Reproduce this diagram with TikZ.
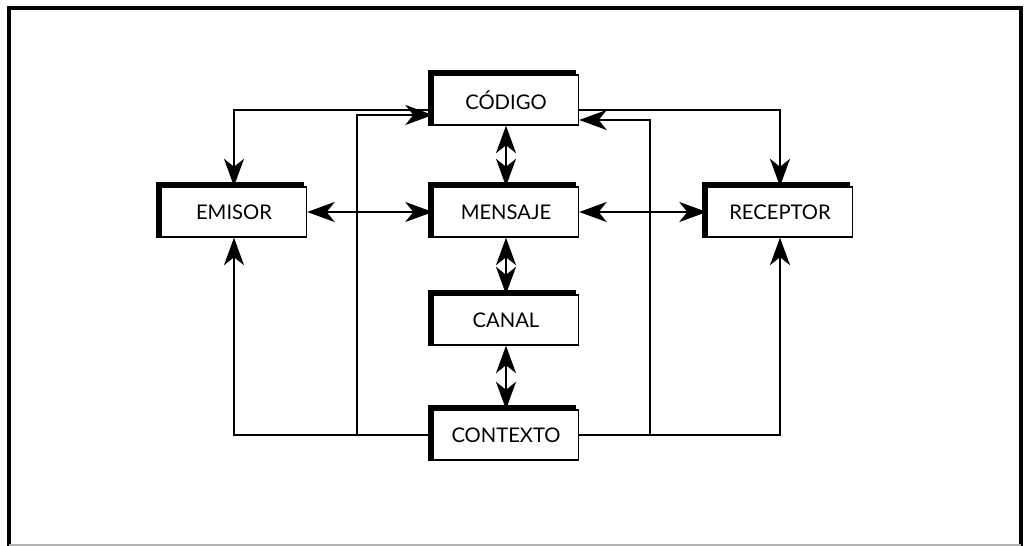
\documentclass[tikz,border=0pt]{standalone}
\usepackage{fontspec}
\setmainfont{Lato}
\usetikzlibrary{arrows.meta}
\usetikzlibrary{positioning}
\tikzset{x=0.02cm, y=-0.02cm,
box/.style={ % boxes of the scheme
draw,
line width=0.8pt,
fill=white,
minimum width=2.9cm,
minimum height=1cm,
font=\fontsize{11.5}{13}\selectfont},
link/.style={ % lines between boxes
line width=1.1pt,
-{Stealth[length=5.5mm,width=4mm,inset=1.6mm]}},
both/.style={
link,
{Stealth[length=5.5mm,width=4mm,inset=1.6mm]}-{Stealth[length=5.5mm,width=4mm,inset=1.6mm]}}}

\begin{document}
\begin{tikzpicture}
	\useasboundingbox (0,0) rectangle (1025,546);
	% frame
	\draw[line width=2.2pt] (9,546) -- (9,8) -- (1021,8) -- (1021,546);
	\draw[gray!60, line width=0.6pt] (9,545) -- (1021,545);
	% boxes
	\node[box] (codigo) at (506,100) {CÓDIGO};
	\node[box] (emisor) at (234,212) {EMISOR};
	\node[box] (mensaje) at (506,212) {MENSAJE};
	\node[box] (receptor) at (780,212) {RECEPTOR};
	\node[box] (canal) at (506,320) {CANAL};
	\node[box] (contexto) at (506,435) {CONTEXTO};
	\foreach \n in {codigo, emisor, mensaje, receptor, canal, contexto}
	\draw[line width=2.6pt] ([xshift=-1.2pt]\n.south west) -- ([xshift=-1.2pt,yshift=1.2pt]\n.north west) -- ([xshift=-2pt,yshift=1.2pt]\n.north east);
	% links
	\coordinate (cl) at (357,0);
	\coordinate (cr) at (650,0);
	\draw[link] ([yshift=-0.2cm]codigo.west) -| (emisor.north);
	\draw[link] ([yshift=-0.2cm]codigo.east) -| (receptor.north);
	\draw[link] (contexto.west) -| (emisor.south);
	\draw[link] (contexto.east) -| (receptor.south);
	\draw[link] (contexto.west -| cl) -- ([yshift=-0.3cm]codigo.west -| cl) -- ([yshift=-0.3cm]codigo.west);
	\draw[link] (contexto.east -| cr) -- ([yshift=-0.4cm]codigo.east -| cr) -- ([yshift=-0.4cm]codigo.east);
	\draw[both] (emisor) -- (mensaje);
	\draw[both] (mensaje) -- (receptor);
	\draw[both] (codigo) -- (mensaje);
	\draw[both] (mensaje) -- (canal);
	\draw[both] (canal) -- (contexto);
\end{tikzpicture}
\end{document}
